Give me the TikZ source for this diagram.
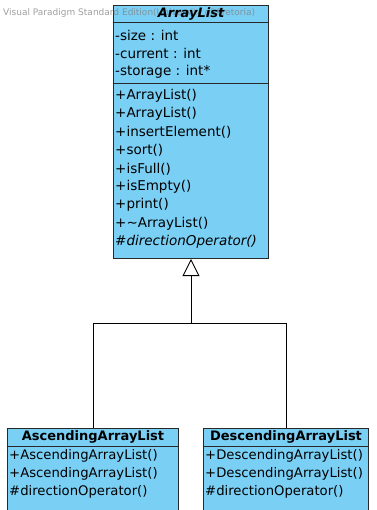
\documentclass[tikz,border=0pt]{standalone}
\usepackage{fontspec}
\setmainfont{DejaVu Sans}
\usetikzlibrary{arrows.meta}
\definecolor{vpfill}{RGB}{122,207,245}
\definecolor{vpline}{RGB}{40,40,40}
\begin{document}
\begin{tikzpicture}[x=1pt,y=-1pt,
 classbox/.style={draw=vpline, fill=vpfill, line width=1pt, inner sep=0pt, anchor=north west},
 member/.style={anchor=west, inner sep=0pt, font=\fontsize{13.5}{15}\selectfont},
 cmember/.style={anchor=west, inner sep=0pt, font=\fontsize{13.2}{15}\selectfont},
 ctitle/.style={inner sep=0pt, font=\fontsize{13}{15}\selectfont\bfseries},
 divider/.style={draw=vpline, line width=1pt},
 conn/.style={draw=black, line width=0.9pt},
 inherit/.style={conn, -{Triangle[open, length=17pt, width=17pt, line width=0.9pt]}},
 watermark/.style={inner sep=0pt, anchor=west, text=black!50, opacity=0.75, font=\fontsize{9}{10}\selectfont}]
\useasboundingbox (0,0) rectangle (376,510);
\fill[white] (0,0) rectangle (376,510);
% ArrayList
\node[classbox, minimum width=155pt, minimum height=253pt] (al) at (113,5) {};
\draw[divider] (113,23) -- (268,23);
\draw[divider] (113,84) -- (268,84);
% children
\node[classbox, minimum width=171pt, minimum height=100pt] (asc) at (7,428) {};
\draw[divider] (7,446) -- (178,446);
\node[classbox, minimum width=165pt, minimum height=100pt] (desc) at (203,428) {};
\draw[divider] (203,446) -- (368,446);
% connectors
\coordinate (j) at (al.south |- 0,323);
\draw[conn] (asc.north) -- (asc.north |- j) -- (desc.north |- j) -- (desc.north);
\draw[inherit] (j) -- (al.south);
% watermark
\node[watermark] (wm) at (3,13) {Visual Paradigm Standard Edition(University of Pretoria)};
% ArrayList text
\node[ctitle, font=\fontsize{13}{15}\selectfont\bfseries\itshape] (alt) at (al.north |- 0,14) {ArrayList};
\node[member] (a1) at (115,35) {-size : int};
\node[member] (a2) at (115,53) {-current : int};
\node[member] (a3) at (115,71.5) {-storage : int*};
\node[member] (m1) at (115,96) {+ArrayList()};
\node[member] (m2) at (115,114.2) {+ArrayList()};
\node[member] (m3) at (115,132.4) {+insertElement()};
\node[member] (m4) at (115,150.6) {+sort()};
\node[member] (m5) at (115,168.8) {+isFull()};
\node[member] (m6) at (115,187) {+isEmpty()};
\node[member] (m7) at (115,205.2) {+print()};
\node[member] (m8) at (115,223.4) {+\textasciitilde ArrayList()};
\node[member, font=\fontsize{13.5}{15}\selectfont\itshape] (m9) at (115,241.6) {\#directionOperator()};
% AscendingArrayList text
\node[ctitle] (asct) at (asc.north |- 0,437) {AscendingArrayList};
\node[cmember] (s1) at (9,456) {+AscendingArrayList()};
\node[cmember] (s2) at (9,474) {+AscendingArrayList()};
\node[cmember] (s3) at (9,492) {\#directionOperator()};
% DescendingArrayList text
\node[ctitle] (desct) at (desc.north |- 0,437) {DescendingArrayList};
\node[cmember] (d1) at (205,456) {+DescendingArrayList()};
\node[cmember] (d2) at (205,474) {+DescendingArrayList()};
\node[cmember] (d3) at (205,492) {\#directionOperator()};
\end{tikzpicture}
\end{document}
